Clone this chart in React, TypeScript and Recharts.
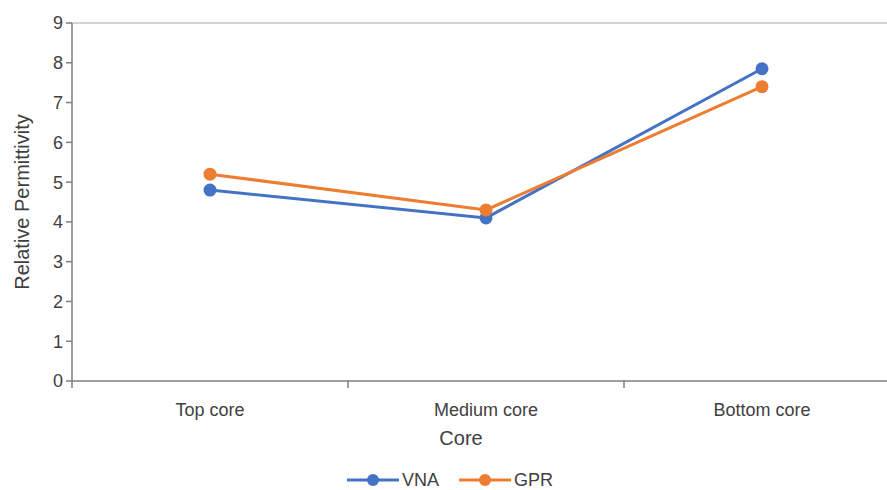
import React from 'react';
import { LineChart, Line, XAxis, YAxis, ReferenceLine, Legend } from 'recharts';

const categories = ['Top core', 'Medium core', 'Bottom core'];
const vnaValues = [4.8, 4.1, 7.85];
const gprValues = [5.2, 4.3, 7.4];
const yTicks = [0, 1, 2, 3, 4, 5, 6, 7, 8, 9];
const seriesNames = ['VNA', 'GPR'];
const seriesColors = ['#4472C4', '#ED7D31'];

const data = categories.map((c, i) => ({ core: c, VNA: vnaValues[i], GPR: gprValues[i] }));

const CHART_W = 900;
const CHART_H = 490;
const Y_AXIS_W = 72;
const PLOT_W = CHART_W - Y_AXIS_W;
const HALF_BAND = PLOT_W / categories.length / 2;
const FONT = '"Liberation Sans", Arial, sans-serif';
const TEXT = '#404040';
const AXIS = '#7f7f7f';

const XTick = (props: any) => {
  const { x, y, payload, index } = props;
  const last = index === categories.length - 1;
  return (
    <g>
      <line x1={x - HALF_BAND} x2={x - HALF_BAND} y1={y} y2={y + 7} stroke={AXIS} strokeWidth={1.5} />
      {last && <line x1={x + HALF_BAND} x2={x + HALF_BAND} y1={y} y2={y + 7} stroke={AXIS} strokeWidth={1.5} />}
      <text x={x} y={y + 35} textAnchor="middle" fontSize={18} fill={TEXT} fontFamily={FONT}>
        {payload.value}
      </text>
    </g>
  );
};

const LegendContent = () => (
  <div style={{ display: 'flex', justifyContent: 'center', alignItems: 'center', height: 30, paddingTop: 10, boxSizing: 'border-box', fontFamily: FONT }}>
    {seriesNames.map((name, i) => (
      <div key={name} style={{ display: 'flex', alignItems: 'center', marginLeft: i === 0 ? 0 : 20 }}>
        <svg width={52} height={16} style={{ display: 'block' }}>
          <line x1={0} x2={52} y1={8} y2={8} stroke={seriesColors[i]} strokeWidth={3} />
          <circle cx={26} cy={8} r={6} fill={seriesColors[i]} />
        </svg>
        <span style={{ fontSize: 18, color: TEXT, marginLeft: 3, lineHeight: '20px' }}>{name}</span>
      </div>
    ))}
  </div>
);

export default function App() {
  return (
    <div style={{ position: 'absolute', left: 0, top: 0, width: 887, height: 490, overflow: 'hidden', background: '#fff' }}>
      <LineChart width={CHART_W} height={CHART_H} data={data} margin={{ top: 23, right: 0, bottom: 0, left: 0 }}>
        <ReferenceLine y={9} stroke="#c6c6c6" strokeWidth={1.5} />
        <XAxis
          dataKey="core"
          scale="band"
          height={79}
          tickSize={0}
          tickMargin={0}
          tickLine={false}
          axisLine={{ stroke: AXIS, strokeWidth: 1.5 }}
          tick={<XTick />}
          interval={0}
          label={{ value: 'Core', position: 'insideBottom', offset: 15, dx: -25, fontSize: 20, fill: TEXT, fontFamily: FONT }}
        />
        <YAxis
          width={Y_AXIS_W}
          domain={[0, 9]}
          ticks={yTicks}
          interval={0}
          tickSize={6}
          tickMargin={3}
          axisLine={{ stroke: AXIS, strokeWidth: 1.5 }}
          tickLine={{ stroke: AXIS, strokeWidth: 1.5 }}
          tick={{ fontSize: 18, fill: TEXT, fontFamily: FONT }}
          label={{ value: 'Relative Permittivity', angle: -90, position: 'center', dx: -14, fontSize: 20, fill: TEXT, fontFamily: FONT }}
        />
        <Legend verticalAlign="bottom" height={30} content={<LegendContent />} />
        {seriesNames.map((name, i) => (
          <Line
            key={name}
            dataKey={name}
            name={name}
            stroke={seriesColors[i]}
            strokeWidth={3}
            dot={{ r: 6.5, fill: seriesColors[i], stroke: seriesColors[i], strokeWidth: 0 }}
            activeDot={false}
            isAnimationActive={false}
          />
        ))}
      </LineChart>
    </div>
  );
}
